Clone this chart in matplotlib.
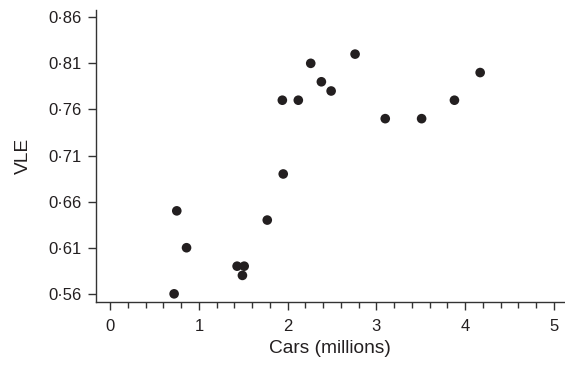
import matplotlib
matplotlib.use("Agg")
import matplotlib.pyplot as plt
from matplotlib.ticker import FixedLocator, FixedFormatter, MultipleLocator

plt.rcParams["font.family"] = ["Liberation Sans", "DejaVu Sans"]

# data
cars = [0.72, 0.75, 0.86, 1.43, 1.51, 1.49, 1.77, 1.95, 1.94, 2.12,
        2.26, 2.38, 2.49, 2.76, 3.10, 3.51, 3.88, 4.17]
vle = [0.56, 0.65, 0.61, 0.59, 0.59, 0.58, 0.64, 0.69, 0.77, 0.77,
       0.81, 0.79, 0.78, 0.82, 0.75, 0.75, 0.77, 0.80]

y_ticks = [0.56, 0.61, 0.66, 0.71, 0.76, 0.81, 0.86]
y_labels = ["0·56", "0·61", "0·66", "0·71", "0·76", "0·81", "0·86"]
x_ticks = [0, 1, 2, 3, 4, 5]

fig = plt.figure(figsize=(5.65, 3.65), dpi=100)
ax = fig.add_axes([0.170, 0.173, 0.829, 0.800])

ax.scatter(cars, vle, s=48, color="#231f20", edgecolors="none", zorder=3)

ax.set_xlim(-0.16, 5.12)
ax.set_ylim(0.5513, 0.868)

ax.yaxis.set_major_locator(FixedLocator(y_ticks))
ax.yaxis.set_major_formatter(FixedFormatter(y_labels))
ax.xaxis.set_major_locator(FixedLocator(x_ticks))
ax.xaxis.set_minor_locator(MultipleLocator(0.2))

for side in ["top", "right"]:
    ax.spines[side].set_visible(False)
for side in ["left", "bottom"]:
    ax.spines[side].set_linewidth(1.0)
    ax.spines[side].set_color("#333333")

ax.tick_params(axis="both", which="major", direction="out", length=5.5,
               width=1.0, color="#333333", labelsize=12, labelcolor="#231f20")
ax.tick_params(axis="y", which="major", pad=5)
ax.tick_params(axis="x", which="major", pad=7)
ax.tick_params(axis="x", which="minor", direction="out", length=4.5,
               width=1.0, color="#333333")

ax.set_xlabel("Cars (millions)", fontsize=13.8, color="#231f20", labelpad=4)
ax.set_ylabel("VLE", fontsize=13.8, color="#231f20", labelpad=12)

fig.savefig("out.png", dpi=100)
plt.close(fig)
